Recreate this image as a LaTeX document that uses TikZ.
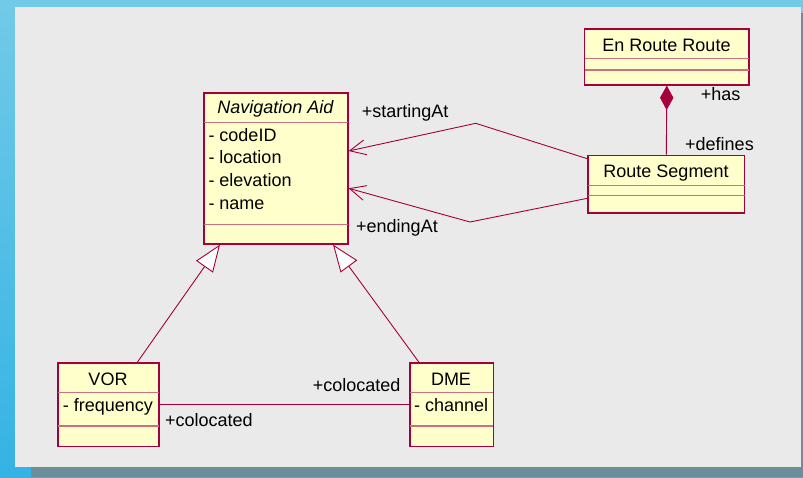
\documentclass[tikz,border=0pt]{standalone}
\usepackage{fontspec}
\setmainfont{Liberation Sans}
\usetikzlibrary{arrows.meta,calc}

\definecolor{umlline}{RGB}{165,0,60}
\definecolor{umlsep}{RGB}{205,110,130}
\definecolor{umlfill}{RGB}{255,255,204}
\definecolor{panel}{RGB}{234,234,234}
\definecolor{frametop}{RGB}{114,202,232}
\definecolor{framebot}{RGB}{52,179,228}
\definecolor{shadowstrip}{RGB}{108,142,153}

\begin{document}
\begin{tikzpicture}[x=1pt,y=-1pt,
  classbox/.style={draw=umlline, fill=umlfill, line width=1.3pt, rectangle,
    inner sep=0pt, anchor=north west},
  sepline/.style={draw=umlsep, line width=1.1pt, shorten <=0.7pt, shorten >=0.7pt},
  conn/.style={draw=umlline, line width=0.9pt},
  txt/.style={font=\fontsize{18}{22}\selectfont, inner sep=0pt, text=black},
  opentip/.style={-{Straight Barb[length=16pt,width=15pt]}},
  generalize/.style={-{Triangle[open, length=27pt, width=20.5pt, fill=white]}},
  compose/.style={{Diamond[length=24.4pt,width=13.4pt]}-}
]
\useasboundingbox (0,0) rectangle (803,477);

% window frame and drawing panel
\shade[top color=frametop, bottom color=framebot] (0,0) rectangle (803,477);
\fill[panel] (15,7) rectangle (801,467);
\fill[shadowstrip] (31,467) rectangle (803,477);
\fill[shadowstrip] (801,13) rectangle (803,467);

% class boxes
\node[classbox, minimum width=144pt, minimum height=151pt] (nav) at (203.3,92.3) {};
\node[classbox, minimum width=164.3pt, minimum height=56pt] (err) at (584,28.3) {};
\node[classbox, minimum width=156.7pt, minimum height=57.6pt] (rs) at (587.3,154.7) {};
\node[classbox, minimum width=101pt, minimum height=83.7pt] (vor) at (57.3,362.3) {};
\node[classbox, minimum width=83.4pt, minimum height=83.7pt] (dme) at (409.3,362.3) {};

% compartment separators
\draw[sepline] ($(nav.north west)+(0,30)$) -- ($(nav.north east)+(0,30)$);
\draw[sepline] ($(nav.north west)+(0,132)$) -- ($(nav.north east)+(0,132)$);
\draw[sepline] ($(err.north west)+(0,30.4)$) -- ($(err.north east)+(0,30.4)$);
\draw[sepline] ($(err.north west)+(0,41.7)$) -- ($(err.north east)+(0,41.7)$);
\draw[sepline] ($(rs.north west)+(0,30.6)$) -- ($(rs.north east)+(0,30.6)$);
\draw[sepline] ($(rs.north west)+(0,41)$) -- ($(rs.north east)+(0,41)$);
\draw[sepline] ($(vor.north west)+(0,30)$) -- ($(vor.north east)+(0,30)$);
\draw[sepline] ($(vor.north west)+(0,63.7)$) -- ($(vor.north east)+(0,63.7)$);
\draw[sepline] ($(dme.north west)+(0,30)$) -- ($(dme.north east)+(0,30)$);
\draw[sepline] ($(dme.north west)+(0,63.7)$) -- ($(dme.north east)+(0,63.7)$);

% class names and attributes
\node[txt, anchor=base] (navname) at (275.3,113.5) {\itshape Navigation Aid};
\node[txt, anchor=base west] (navattr1) at (208.3,141) {- codeID};
\node[txt, anchor=base west] (navattr2) at (208.3,163.7) {- location};
\node[txt, anchor=base west] (navattr3) at (208.3,186.4) {- elevation};
\node[txt, anchor=base west] (navattr4) at (208.3,209.1) {- name};
\node[txt, anchor=base] (errname) at (666.5,51.7) {En Route Route};
\node[txt, anchor=base] (rsname) at (666,177.3) {Route Segment};
\node[txt, anchor=base] (vorname) at (108,385) {VOR};
\node[txt, anchor=base west] (vorattr) at (62.7,411) {- frequency};
\node[txt, anchor=base] (dmename) at (451,385) {DME};
\node[txt, anchor=base west] (dmeattr) at (414,411) {- channel};

% route segment ends
\coordinate (startbend) at (475.7,123.3);
\coordinate (endbend) at (470,222);
\draw[conn, opentip] ($(rs.north west)+(0,4)$) -- (startbend) -- ($(nav.north east)+(0,58.7)$);
\draw[conn, opentip] ($(rs.north west)+(0,43.6)$) -- (endbend) -- ($(nav.north east)+(0,96)$);

% composition
\draw[conn, compose, umlline] (err.south) -- (rs.north);

% generalizations
\draw[conn, generalize] ($(vor.north west)+(80,0)$) -- ($(nav.south west)+(16.7,0)$);
\draw[conn, generalize] ($(dme.north west)+(9.7,0)$) -- ($(nav.south east)+(-15.6,0)$);

% colocation association
\draw[conn] ($(vor.north east)+(0,42)$) -- ($(dme.north west)+(0,42)$);

% role labels
\node[txt, anchor=base west] (lstart) at (361.7,117) {+startingAt};
\node[txt, anchor=base west] (lend) at (356,232) {+endingAt};
\node[txt, anchor=base west] (lhas) at (700.7,100) {+has};
\node[txt, anchor=base west] (ldef) at (685,150) {+defines};
\node[txt, anchor=base east] (lcol1) at (400.7,391.7) {+colocated};
\node[txt, anchor=base west] (lcol2) at (165,426) {+colocated};
\end{tikzpicture}
\end{document}
